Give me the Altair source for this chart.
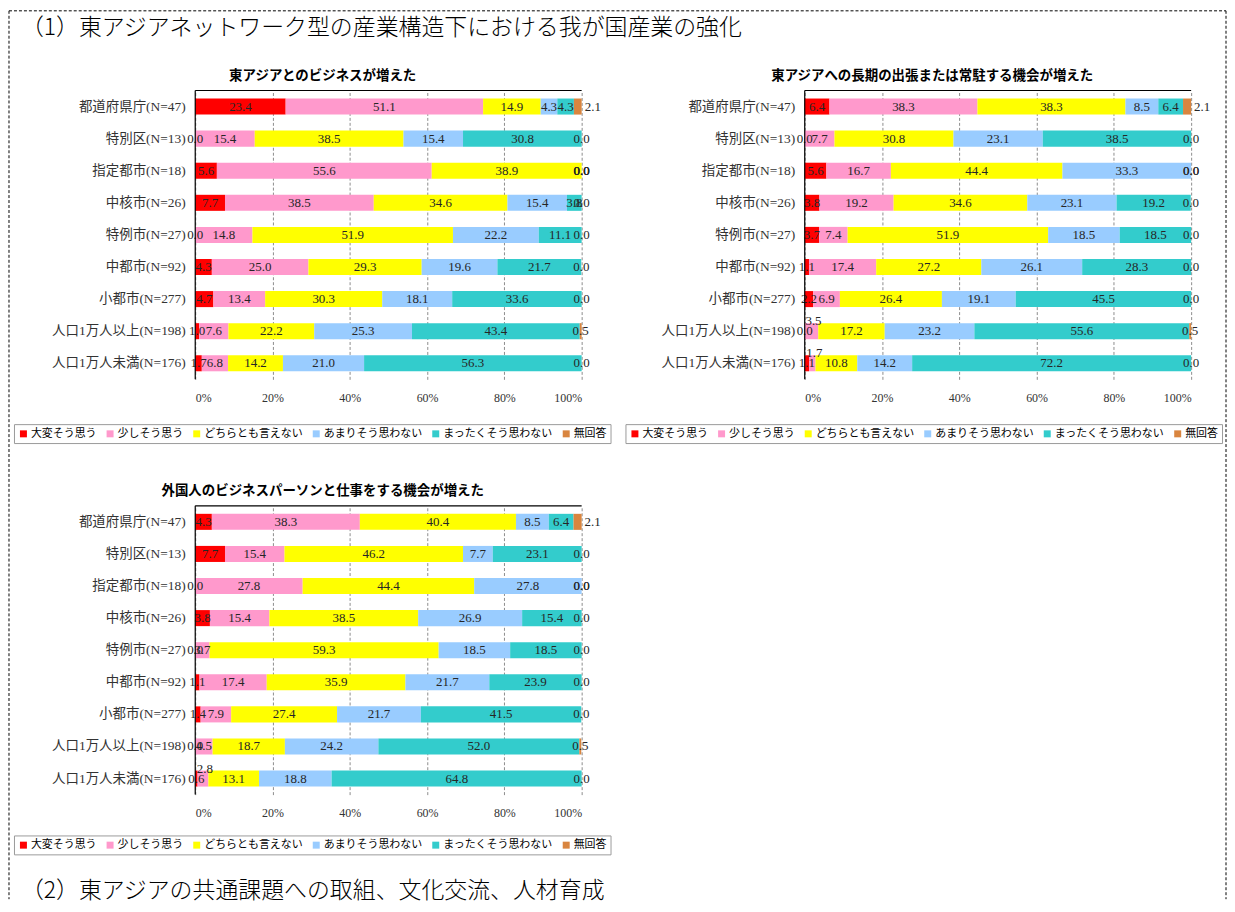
import altair as alt
import pandas as pd

categories = ["都道府県庁(N=47)", "特別区(N=13)", "指定都市(N=18)", "中核市(N=26)", "特例市(N=27)",
              "中都市(N=92)", "小都市(N=277)", "人口1万人以上(N=198)", "人口1万人未満(N=176)"]
series = ["大変そう思う", "少しそう思う", "どちらとも言えない", "あまりそう思わない", "まったくそう思わない", "無回答"]
colors = ["#FF0000", "#FF99CC", "#FFFF00", "#99CCFF", "#33CCCC", "#D9853F"]

title1 = "東アジアとのビジネスが増えた"
title2 = "東アジアへの長期の出張または常駐する機会が増えた"
title3 = "外国人のビジネスパーソンと仕事をする機会が増えた"
heading1 = "（1）東アジアネットワーク型の産業構造下における我が国産業の強化"
heading2 = "（2）東アジアの共通課題への取組、文化交流、人材育成"

values1 = [
    [23.4, 51.1, 14.9, 4.3, 4.3, 2.1],
    [0.0, 15.4, 38.5, 15.4, 30.8, 0.0],
    [5.6, 55.6, 38.9, 0.0, 0.0, 0.0],
    [7.7, 38.5, 34.6, 15.4, 3.8, 0.0],
    [0.0, 14.8, 51.9, 22.2, 11.1, 0.0],
    [4.3, 25.0, 29.3, 19.6, 21.7, 0.0],
    [4.7, 13.4, 30.3, 18.1, 33.6, 0.0],
    [1.0, 7.6, 22.2, 25.3, 43.4, 0.5],
    [1.7, 6.8, 14.2, 21.0, 56.3, 0.0],
]
values2 = [
    [6.4, 38.3, 38.3, 8.5, 6.4, 2.1],
    [0.0, 7.7, 30.8, 23.1, 38.5, 0.0],
    [5.6, 16.7, 44.4, 33.3, 0.0, 0.0],
    [3.8, 19.2, 34.6, 23.1, 19.2, 0.0],
    [3.7, 7.4, 51.9, 18.5, 18.5, 0.0],
    [1.1, 17.4, 27.2, 26.1, 28.3, 0.0],
    [2.2, 6.9, 26.4, 19.1, 45.5, 0.0],
    [0.0, 3.5, 17.2, 23.2, 55.6, 0.5],
    [1.1, 1.7, 10.8, 14.2, 72.2, 0.0],
]
values3 = [
    [4.3, 38.3, 40.4, 8.5, 6.4, 2.1],
    [7.7, 15.4, 46.2, 7.7, 23.1, 0.0],
    [0.0, 27.8, 44.4, 27.8, 0.0, 0.0],
    [3.8, 15.4, 38.5, 26.9, 15.4, 0.0],
    [0.0, 3.7, 59.3, 18.5, 18.5, 0.0],
    [1.1, 17.4, 35.9, 21.7, 23.9, 0.0],
    [1.4, 7.9, 27.4, 21.7, 41.5, 0.0],
    [0.0, 4.5, 18.7, 24.2, 52.0, 0.5],
    [0.6, 2.8, 13.1, 18.8, 64.8, 0.0],
]

SERIF = "Liberation Serif, Noto Sans CJK JP"
GOTH = "Noto Sans CJK JP"
W, H = 388, 290


def make_df(values):
    rows = []
    for ci, cat in enumerate(categories):
        cum = 0.0
        for si, s in enumerate(series):
            v = values[ci][si]
            rows.append({"category": cat, "series": s, "s_idx": si, "value": v,
                         "start": min(cum, 100), "end": min(cum + v, 100),
                         "mid": min(cum + v / 2, 100)})
            cum += v
    return pd.DataFrame(rows)


def panel(values, title, lx, ly, extras=()):
    df = make_df(values)
    base = alt.Chart(df)
    yenc = alt.Y("category:N", sort=categories, title=None,
                 scale=alt.Scale(paddingInner=0.5, paddingOuter=0.25),
                 axis=alt.Axis(domain=False, ticks=False, labelFont=SERIF, labelFontSize=13.5,
                               labelPadding=10, labelColor="#333333", labelLimit=0, grid=False))
    xscale = alt.Scale(domain=[0, 100], nice=False)
    bars = base.mark_bar().encode(
        x=alt.X("start:Q", scale=xscale, title=None,
                axis=alt.Axis(values=[0, 20, 40, 60, 80, 100], labelExpr="datum.value + '%'",
                              grid=True, gridDash=[3, 2], gridColor="#8c8c8c", domain=False,
                              ticks=False, labelPadding=13, labelFontSize=12, labelFont=SERIF,
                              labelColor="#333333")),
        x2="end:Q",
        y=yenc,
        color=alt.Color("series:N", scale=alt.Scale(domain=series, range=colors),
                        legend=alt.Legend(title=None, orient="none", legendX=lx, legendY=ly,
                                          direction="horizontal", symbolType="square",
                                          symbolSize=49, symbolStrokeWidth=0,
                                          labelFont=GOTH, labelFontSize=11, labelColor="black",
                                          strokeColor="#9a9a9a", padding=4, columnPadding=8,
                                          labelOffset=2, labelLimit=0, columns=6)),
    )
    ycat = alt.Y("category:N", sort=categories)
    txt = dict(font=SERIF, fontSize=13, color="#262626")
    labels = base.transform_filter(
        "!(datum.series == '無回答' && datum.value >= 1) && "
        "!(datum.series == '少しそう思う' && datum.value < 3.6)"
    ).mark_text(**txt).encode(
        x=alt.X("mid:Q", scale=xscale), y=ycat, text=alt.Text("value:Q", format=".1f"))
    labels_out = base.transform_filter(
        "datum.series == '無回答' && datum.value >= 1"
    ).mark_text(dx=15, **txt).encode(
        x=alt.X("mid:Q", scale=xscale), y=ycat, text=alt.Text("value:Q", format=".1f"))
    labels_up = base.transform_filter(
        "datum.series == '少しそう思う' && datum.value < 3.6"
    ).mark_text(dy=-10, dx=2, **txt).encode(
        x=alt.X("mid:Q", scale=xscale), y=ycat, text=alt.Text("value:Q", format=".1f"))
    frame = pd.DataFrame({"a": [0], "b": [100], "t": [title]})
    left_axis = alt.Chart(frame).mark_rule(color="black", strokeWidth=1.2).encode(
        x=alt.X("a:Q", scale=xscale), y=alt.value(0), y2=alt.value(H))
    top_line = alt.Chart(frame).mark_rule(color="black", strokeWidth=1.2).encode(
        x=alt.X("a:Q", scale=xscale), x2="b:Q", y=alt.value(0))
    ttl = alt.Chart(frame).mark_text(font=GOTH, fontSize=13.5, fontWeight="bold", color="black",
                                     baseline="middle", align="center").encode(
        x=alt.value(W / 2 - 66), y=alt.value(-15), text="t:N")
    layers = [bars, labels, labels_out, labels_up, left_axis, top_line, ttl] + list(extras)
    return alt.layer(*layers).properties(width=W, height=H)


one = pd.DataFrame({"k": [0]})
h1 = alt.Chart(pd.DataFrame({"t": [heading1]})).mark_text(
    font=GOTH, fontSize=23, fontWeight=300, align="left", baseline="middle", color="black").encode(
    x=alt.value(-175), y=alt.value(-63), text="t:N")
h2 = alt.Chart(pd.DataFrame({"t": [heading2]})).mark_text(
    font=GOTH, fontSize=23, fontWeight=300, align="left", baseline="middle", color="black").encode(
    x=alt.value(-175), y=alt.value(387), text="t:N")
border_top = alt.Chart(one).mark_rule(color="black", strokeDash=[3, 2], strokeWidth=1).encode(
    x=alt.value(-187), x2=alt.value(1035), y=alt.value(-80))
border_left = alt.Chart(one).mark_rule(color="black", strokeDash=[3, 2], strokeWidth=1).encode(
    x=alt.value(-187), y=alt.value(-80), y2=alt.value(812))
border_right = alt.Chart(one).mark_rule(color="black", strokeDash=[3, 2], strokeWidth=1).encode(
    x=alt.value(1035), y=alt.value(-80), y2=alt.value(812))

c1 = panel(values1, title1, -182, 335, [h1, border_top, border_left, border_right])
c2 = panel(values2, title2, -180, 335)
c3 = panel(values3, title3, -182, 331, [h2])

chart = alt.concat(c1, c2, c3, columns=2, spacing={"row": 127, "column": 224},
                   bounds="flush").resolve_legend(color="independent")
chart = chart.properties(padding=0).configure_view(stroke=None)

chart.save("out.html", embed_options={"renderer": "svg", "actions": False})
